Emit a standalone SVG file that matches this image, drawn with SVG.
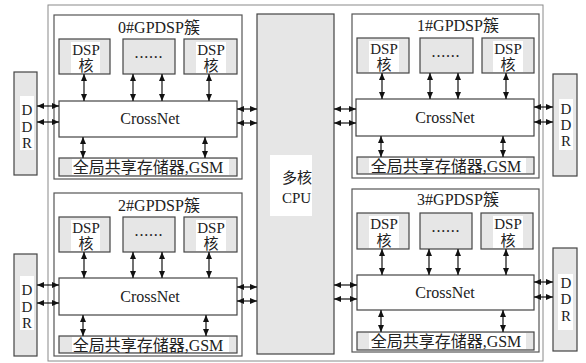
<svg xmlns="http://www.w3.org/2000/svg" width="586" height="363" viewBox="0 0 586 363">
  <style>
    .frame { fill: #ffffff; stroke: #8a8a8a; stroke-width: 1; }
    .cluster { fill: #ffffff; stroke: #555555; stroke-width: 1.2; }
    .gray { fill: #e6e6e6; stroke: #444444; stroke-width: 1.2; }
    .white { fill: #ffffff; stroke: #444444; stroke-width: 1.2; }
    .pad { fill: #ffffff; stroke: none; }
    text { font-family: 'Liberation Serif', 'Times New Roman', 'DejaVu Serif', 'Noto Sans CJK SC', serif; font-size: 16px; fill: #222222; }
    .c { text-anchor: middle; }
    .s15 { font-size: 15px; }
    .dots { letter-spacing: 0.8px; }
    .link { stroke: #111111; stroke-width: 1.2; fill: none; marker-start: url(#ah); marker-end: url(#ah); }
  </style>
  <defs>
    <marker id="ah" viewBox="0 0 7 6" refX="7" refY="3" markerWidth="7" markerHeight="6" markerUnits="userSpaceOnUse" orient="auto-start-reverse">
      <path d="M0,0 L7,3 L0,6 z" fill="#111111"/>
    </marker>
  </defs>

  <!-- chip outline -->
  <rect class="frame" x="48" y="5" width="495" height="356"/>

  <!-- host CPU -->
  <g id="cpu">
    <rect class="gray" x="257" y="14" width="77" height="340"/>
    <rect class="pad" x="270" y="155" width="42" height="61"/>
    <text class="s15" x="282" y="183">多核</text>
    <text class="s15" x="282" y="203">CPU</text>
  </g>

  <!-- cluster 0 -->
  <g id="cluster0">
    <rect class="cluster" x="54" y="15" width="188" height="164"/>
    <text class="c" x="159" y="33">0#GPDSP簇</text>
    <g id="c0-dsp-a">
      <rect class="gray" x="59" y="39" width="51" height="35"/>
      <rect class="pad" x="71" y="42" width="29" height="31"/>
      <text class="c s15" x="86" y="55">DSP</text>
      <text class="c s15" x="86" y="71">核</text>
    </g>
    <g id="c0-dsp-more">
      <rect class="gray" x="123" y="39" width="52" height="35"/>
      <text class="c dots" x="149" y="58">......</text>
    </g>
    <g id="c0-dsp-b">
      <rect class="gray" x="184" y="39" width="53" height="35"/>
      <rect class="pad" x="196" y="42" width="30" height="31"/>
      <text class="c s15" x="211" y="55">DSP</text>
      <text class="c s15" x="211" y="71">核</text>
    </g>
    <g id="c0-crossnet">
      <rect class="white" x="59" y="101" width="178" height="36"/>
      <text class="c" x="150" y="124">CrossNet</text>
    </g>
    <g id="c0-gsm">
      <rect class="gray" x="59" y="158" width="178" height="18"/>
      <rect class="pad" x="72" y="159" width="157" height="16"/>
      <text class="c" x="148" y="173">全局共享存储器,GSM</text>
    </g>
  </g>

  <!-- cluster 1 -->
  <g id="cluster1">
    <rect class="cluster" x="352" y="14" width="187" height="164"/>
    <text class="c" x="458" y="31">1#GPDSP簇</text>
    <g id="c1-dsp-a">
      <rect class="gray" x="357" y="38" width="52" height="35"/>
      <rect class="pad" x="369" y="41" width="30" height="31"/>
      <text class="c s15" x="384" y="54">DSP</text>
      <text class="c s15" x="384" y="70">核</text>
    </g>
    <g id="c1-dsp-more">
      <rect class="gray" x="420" y="38" width="53" height="35"/>
      <text class="c dots" x="446" y="57">......</text>
    </g>
    <g id="c1-dsp-b">
      <rect class="gray" x="482" y="38" width="52" height="35"/>
      <rect class="pad" x="493" y="41" width="30" height="31"/>
      <text class="c s15" x="508" y="54">DSP</text>
      <text class="c s15" x="508" y="70">核</text>
    </g>
    <g id="c1-crossnet">
      <rect class="white" x="356" y="99" width="178" height="37"/>
      <text class="c" x="445" y="123">CrossNet</text>
    </g>
    <g id="c1-gsm">
      <rect class="gray" x="357" y="157" width="177" height="17"/>
      <rect class="pad" x="369" y="158" width="157" height="15"/>
      <text class="c" x="446" y="172">全局共享存储器,GSM</text>
    </g>
  </g>

  <!-- cluster 2 -->
  <g id="cluster2">
    <rect class="cluster" x="54" y="193" width="188" height="163"/>
    <text class="c" x="159" y="211">2#GPDSP簇</text>
    <g id="c2-dsp-a">
      <rect class="gray" x="59" y="217" width="51" height="35"/>
      <rect class="pad" x="71" y="220" width="29" height="31"/>
      <text class="c s15" x="86" y="233">DSP</text>
      <text class="c s15" x="86" y="249">核</text>
    </g>
    <g id="c2-dsp-more">
      <rect class="gray" x="123" y="217" width="52" height="35"/>
      <text class="c dots" x="149" y="236">......</text>
    </g>
    <g id="c2-dsp-b">
      <rect class="gray" x="184" y="217" width="53" height="35"/>
      <rect class="pad" x="196" y="220" width="30" height="31"/>
      <text class="c s15" x="211" y="233">DSP</text>
      <text class="c s15" x="211" y="249">核</text>
    </g>
    <g id="c2-crossnet">
      <rect class="white" x="59" y="278" width="178" height="37"/>
      <text class="c" x="150" y="302">CrossNet</text>
    </g>
    <g id="c2-gsm">
      <rect class="gray" x="59" y="336" width="178" height="17"/>
      <rect class="pad" x="72" y="337" width="157" height="15"/>
      <text class="c" x="148" y="351">全局共享存储器,GSM</text>
    </g>
  </g>

  <!-- cluster 3 -->
  <g id="cluster3">
    <rect class="cluster" x="352" y="189" width="187" height="163"/>
    <text class="c" x="458" y="205">3#GPDSP簇</text>
    <g id="c3-dsp-a">
      <rect class="gray" x="357" y="213" width="52" height="36"/>
      <rect class="pad" x="369" y="216" width="30" height="32"/>
      <text class="c s15" x="384" y="229">DSP</text>
      <text class="c s15" x="384" y="246">核</text>
    </g>
    <g id="c3-dsp-more">
      <rect class="gray" x="420" y="213" width="52" height="36"/>
      <text class="c dots" x="446" y="232">......</text>
    </g>
    <g id="c3-dsp-b">
      <rect class="gray" x="481" y="213" width="52" height="36"/>
      <rect class="pad" x="493" y="216" width="30" height="32"/>
      <text class="c s15" x="508" y="229">DSP</text>
      <text class="c s15" x="508" y="246">核</text>
    </g>
    <g id="c3-crossnet">
      <rect class="white" x="357" y="275" width="177" height="35"/>
      <text class="c" x="445" y="298">CrossNet</text>
    </g>
    <g id="c3-gsm">
      <rect class="gray" x="357" y="332" width="177" height="18"/>
      <rect class="pad" x="369" y="333" width="157" height="16"/>
      <text class="c" x="446" y="347">全局共享存储器,GSM</text>
    </g>
  </g>

  <!-- external DDR memories -->
  <g id="ddr0">
    <rect class="gray" x="14" y="72" width="23" height="103"/>
    <rect class="pad" x="20" y="96" width="14" height="54"/>
    <text class="c s15" x="27" y="115">D</text>
    <text class="c s15" x="27" y="132">D</text>
    <text class="c s15" x="27" y="148">R</text>
  </g>
  <g id="ddr1">
    <rect class="gray" x="553" y="74" width="24" height="102"/>
    <rect class="pad" x="559" y="99" width="14" height="51"/>
    <text class="c s15" x="566" y="114">D</text>
    <text class="c s15" x="566" y="130">D</text>
    <text class="c s15" x="566" y="146">R</text>
  </g>
  <g id="ddr2">
    <rect class="gray" x="14" y="254" width="23" height="102"/>
    <rect class="pad" x="20" y="276" width="14" height="54"/>
    <text class="c s15" x="27" y="295">D</text>
    <text class="c s15" x="27" y="312">D</text>
    <text class="c s15" x="27" y="328">R</text>
  </g>
  <g id="ddr3">
    <rect class="gray" x="553" y="248" width="24" height="103"/>
    <rect class="pad" x="558" y="274" width="15" height="56"/>
    <text class="c s15" x="566" y="288">D</text>
    <text class="c s15" x="566" y="304">D</text>
    <text class="c s15" x="566" y="321">R</text>
  </g>

  <!-- bidirectional links -->
  <g id="connectors">
    <!-- cluster 0 -->
    <line class="link" x1="84" y1="74" x2="84" y2="101"/>
    <line class="link" x1="133" y1="74" x2="133" y2="101"/>
    <line class="link" x1="162" y1="74" x2="162" y2="101"/>
    <line class="link" x1="209" y1="74" x2="209" y2="101"/>
    <line class="link" x1="83" y1="137" x2="83" y2="158"/>
    <line class="link" x1="205" y1="137" x2="205" y2="158"/>
    <line class="link" x1="37" y1="106" x2="59" y2="106"/>
    <line class="link" x1="37" y1="122" x2="59" y2="122"/>
    <line class="link" x1="237" y1="109" x2="257" y2="109"/>
    <line class="link" x1="237" y1="123" x2="257" y2="123"/>
    <!-- cluster 1 -->
    <line class="link" x1="382" y1="73" x2="382" y2="99"/>
    <line class="link" x1="430" y1="73" x2="430" y2="99"/>
    <line class="link" x1="458" y1="73" x2="458" y2="99"/>
    <line class="link" x1="506" y1="73" x2="506" y2="99"/>
    <line class="link" x1="381" y1="136" x2="381" y2="157"/>
    <line class="link" x1="503" y1="136" x2="503" y2="157"/>
    <line class="link" x1="334" y1="109" x2="356" y2="109"/>
    <line class="link" x1="334" y1="123" x2="356" y2="123"/>
    <line class="link" x1="534" y1="107" x2="553" y2="107"/>
    <line class="link" x1="534" y1="122" x2="553" y2="122"/>
    <!-- cluster 2 -->
    <line class="link" x1="84" y1="252" x2="84" y2="278"/>
    <line class="link" x1="133" y1="252" x2="133" y2="278"/>
    <line class="link" x1="162" y1="252" x2="162" y2="278"/>
    <line class="link" x1="209" y1="252" x2="209" y2="278"/>
    <line class="link" x1="83" y1="315" x2="83" y2="336"/>
    <line class="link" x1="206" y1="315" x2="206" y2="336"/>
    <line class="link" x1="37" y1="285" x2="59" y2="285"/>
    <line class="link" x1="37" y1="303" x2="59" y2="303"/>
    <line class="link" x1="237" y1="287" x2="257" y2="287"/>
    <line class="link" x1="237" y1="301" x2="257" y2="301"/>
    <!-- cluster 3 -->
    <line class="link" x1="382" y1="249" x2="382" y2="275"/>
    <line class="link" x1="429" y1="249" x2="429" y2="275"/>
    <line class="link" x1="458" y1="249" x2="458" y2="275"/>
    <line class="link" x1="506" y1="249" x2="506" y2="275"/>
    <line class="link" x1="381" y1="310" x2="381" y2="332"/>
    <line class="link" x1="503" y1="310" x2="503" y2="332"/>
    <line class="link" x1="334" y1="285" x2="357" y2="285"/>
    <line class="link" x1="334" y1="299" x2="357" y2="299"/>
    <line class="link" x1="534" y1="282" x2="553" y2="282"/>
    <line class="link" x1="534" y1="297" x2="553" y2="297"/>
  </g>
</svg>
